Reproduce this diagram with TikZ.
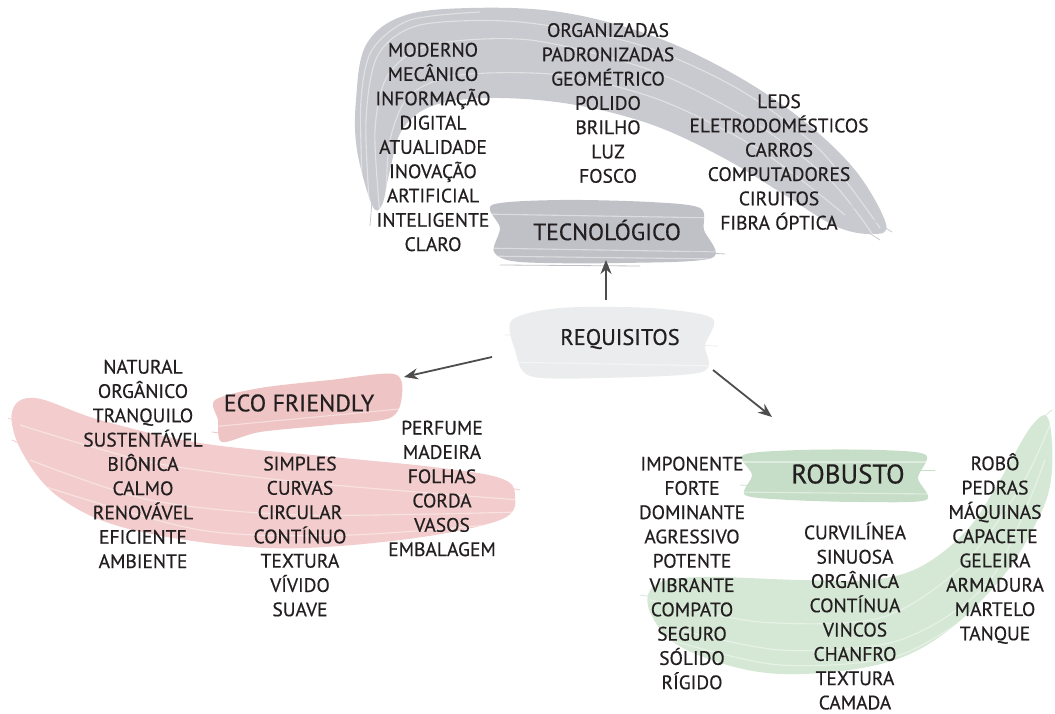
\documentclass[tikz,border=0pt]{standalone}
\usepackage{fontspec}
\setmainfont{PT Sans}[BoldFont={PT Sans},BoldFeatures={FakeBold=0.5}]
\usetikzlibrary{calc,arrows.meta}
\definecolor{txt}{HTML}{231F20}
\definecolor{grayb}{HTML}{C9CACF}
\definecolor{grayd}{HTML}{C0C1C7}
\definecolor{grayl}{HTML}{EBECED}
\definecolor{pinkb}{HTML}{F3CDCD}
\definecolor{pinkd}{HTML}{EFC4C4}
\definecolor{greenb}{HTML}{D5E8D5}
\definecolor{greend}{HTML}{C6DEC7}
\definecolor{arrowc}{HTML}{4D4D4D}
\tikzset{
  col/.style={align=center, text=txt, inner sep=0pt, font=\fontsize{19.5}{24.3}\selectfont\bfseries},
  head/.style={text=txt, inner sep=0pt, font=\fontsize{23.5}{26}\selectfont\bfseries},
  arr/.style={draw=arrowc, line width=1.8pt, -{Stealth[length=14pt,width=11pt]}},
  streak/.style={draw=white, opacity=0.45, line width=1.1pt},
  bristle/.style={line width=0.8pt, line cap=round}
}
\begin{document}
\begin{tikzpicture}[x=1pt,y=-1pt]
\useasboundingbox (0,0) rectangle (1055,714);
% ---- gray arc ----
\begin{scope}
\clip plot[smooth cycle, tension=0.6] coordinates {
 (372,205) (357,150) (356,100) (366,45) (403,16) (470,8) (560,12) (650,35) (730,72) (800,118) (855,170) (886,224)
 (872,234) (835,226) (780,192) (720,156) (650,124) (570,104) (490,98) (432,106) (402,130) (390,170) (382,205)};
\fill[grayb] (0,0) rectangle (1055,714);
\draw[streak] plot[smooth] coordinates {(370,215) (366,120) (378,55) (420,25) (520,22) (640,45) (740,90) (820,150) (880,228)};
\draw[streak] plot[smooth] coordinates {(380,215) (375,130) (388,75) (430,45) (530,40) (650,70) (750,120) (830,180) (875,238)};
\draw[streak] plot[smooth] coordinates {(386,200) (390,140) (410,95) (460,75) (560,75) (660,100) (760,150) (845,215)};
\draw[streak] plot[smooth] coordinates {(362,180) (361,100) (372,50) (410,20) (480,12)};
\end{scope}
\draw[grayb,bristle] (850,205) -- (892,232);
\draw[grayb,bristle] (840,214) -- (880,240);
\draw[grayb,bristle] (372,200) -- (370,226);
% ---- tecnologico brush ----
\begin{scope}
\clip plot[smooth cycle, tension=0.5] coordinates {
 (492,205) (560,200) (650,202) (700,208) (704,230) (712,258) (620,263) (520,262) (494,252) (500,228)};
\fill[grayd] (0,0) rectangle (1055,714);
\draw[streak] (480,214) -- (720,218);
\draw[streak] (480,248) -- (720,252);
\draw[streak] (480,256) -- (720,259);
\end{scope}
\draw[grayd,bristle] (690,252) -- (725,254);
\draw[grayd,bristle] (500,265) -- (640,266);
% ---- requisitos brush ----
\begin{scope}
\clip plot[smooth cycle, tension=0.5] coordinates {
 (512,320) (560,308) (650,308) (712,318) (705,345) (702,372) (600,378) (530,376) (515,350)};
\fill[grayl] (0,0) rectangle (1055,714);
\draw[streak] (500,362) -- (720,366);
\end{scope}
\draw[grayl,bristle] (505,335) -- (535,334);
\draw[grayl,bristle] (690,345) -- (718,346);
% ---- pink big ----
\begin{scope}
\clip plot[smooth cycle, tension=0.6] coordinates {
 (12,412) (35,398) (100,420) (200,443) (333,457) (433,467) (500,478) (515,495) (500,520) (400,540) (267,548) (133,530) (60,498) (22,452)};
\fill[pinkb] (0,0) rectangle (1055,714);
\draw[streak] plot[smooth] coordinates {(20,425) (150,462) (300,482) (520,500)};
\draw[streak] plot[smooth] coordinates {(30,460) (150,500) (300,515) (520,512)};
\draw[streak] plot[smooth] coordinates {(40,485) (200,530) (350,535) (520,522)};
\end{scope}
\draw[pinkb,bristle] (8,418) -- (40,430);
\draw[pinkb,bristle] (12,440) -- (45,455);
\draw[pinkb,bristle] (495,485) -- (520,490);
% ---- eco brush ----
\begin{scope}
\clip plot[smooth cycle, tension=0.5] coordinates {
 (215,400) (260,388) (330,380) (394,374) (402,395) (390,418) (330,425) (260,432) (222,442) (218,420)};
\fill[pinkd] (0,0) rectangle (1055,714);
\draw[streak] (200,428) -- (410,408);
\end{scope}
\draw[pinkd,bristle] (212,432) -- (240,436);
% ---- green swoosh ----
\begin{scope}
\clip plot[smooth cycle, tension=0.6] coordinates {
 (655,585) (700,577) (800,580) (870,580) (920,567) (967,530) (1000,480) (1030,428) (1048,418) (1052,470) (1040,515) (1000,580) (935,640) (867,667) (767,673) (683,648) (650,612)};
\fill[greenb] (0,0) rectangle (1055,714);
\draw[streak] plot[smooth] coordinates {(650,600) (760,622) (880,618) (960,568) (1020,488) (1050,425)};
\draw[streak] plot[smooth] coordinates {(660,625) (780,650) (900,640) (990,580) (1045,460)};
\draw[streak] plot[smooth] coordinates {(670,640) (780,665) (900,655) (1000,595)};
\end{scope}
\draw[greenb,bristle] (640,595) -- (670,600);
\draw[greenb,bristle] (1040,420) -- (1052,410);
% ---- robusto brush ----
\begin{scope}
\clip plot[smooth cycle, tension=0.5] coordinates {
 (743,455) (800,450) (880,450) (926,455) (918,478) (926,500) (860,502) (790,500) (745,495) (752,475)};
\fill[greend] (0,0) rectangle (1055,714);
\draw[streak] (730,462) -- (935,462);
\draw[streak] (730,492) -- (935,494);
\end{scope}
\draw[greend,bristle] (900,470) -- (935,470);
\draw[greend,bristle] (740,485) -- (760,486);
% ---- headers ----
\node[head] (tec) at (607,230) {TECNOLÓGICO};
\node[head, font=\fontsize{22.5}{25}\selectfont\bfseries] (req) at (620,339) {REQUISITOS};
\node[head, font=\fontsize{24}{26}\selectfont\bfseries] (eco) at (299,403) {ECO FRIENDLY};
\node[head, font=\fontsize{27}{30}\selectfont\bfseries] (rob) at (848,474) {ROBUSTO};
% ---- columns ----
\node[col] (t1) at (433,147) {MODERNO\\MECÂNICO\\INFORMAÇÃO\\DIGITAL\\ATUALIDADE\\INOVAÇÃO\\ARTIFICIAL\\INTELIGENTE\\CLARO};
\node[col] (t2) at (608,103) {ORGANIZADAS\\PADRONIZADAS\\GEOMÉTRICO\\POLIDO\\BRILHO\\LUZ\\FOSCO};
\node[col] (t3) at (779,162) {LEDS\\ELETRODOMÉSTICOS\\CARROS\\COMPUTADORES\\CIRUITOS\\FIBRA ÓPTICA};
\node[col] (e1) at (143,464) {NATURAL\\ORGÂNICO\\TRANQUILO\\SUSTENTÁVEL\\BIÔNICA\\CALMO\\RENOVÁVEL\\EFICIENTE\\AMBIENTE};
\node[col] (e2) at (300,536.5) {SIMPLES\\CURVAS\\CIRCULAR\\CONTÍNUO\\TEXTURA\\VÍVIDO\\SUAVE};
\node[col] (e3) at (442,488.5) {PERFUME\\MADEIRA\\FOLHAS\\CORDA\\VASOS\\EMBALAGEM};
\node[col] (r1) at (692,573) {IMPONENTE\\FORTE\\DOMINANTE\\AGRESSIVO\\POTENTE\\VIBRANTE\\COMPATO\\SEGURO\\SÓLIDO\\RÍGIDO};
\node[col] (r2) at (855,616) {CURVILÍNEA\\SINUOSA\\ORGÂNICA\\CONTÍNUA\\VINCOS\\CHANFRO\\TEXTURA\\CAMADA};
\node[col] (r3) at (995,548.5) {ROBÔ\\PEDRAS\\MÁQUINAS\\CAPACETE\\GELEIRA\\ARMADURA\\MARTELO\\TANQUE};
% ---- arrows ----
\draw[arr] ($(req.center)+(-14,-39)$) -- ($(tec.center)+(-1,30)$);
\draw[arr] ($(req.center)+(-128,18)$) -- ($(eco.center)+(105,-26)$);
\draw[arr] ($(req.center)+(93,31)$) -- ($(rob.center)+(-76,-57)$);
\end{tikzpicture}
\end{document}
